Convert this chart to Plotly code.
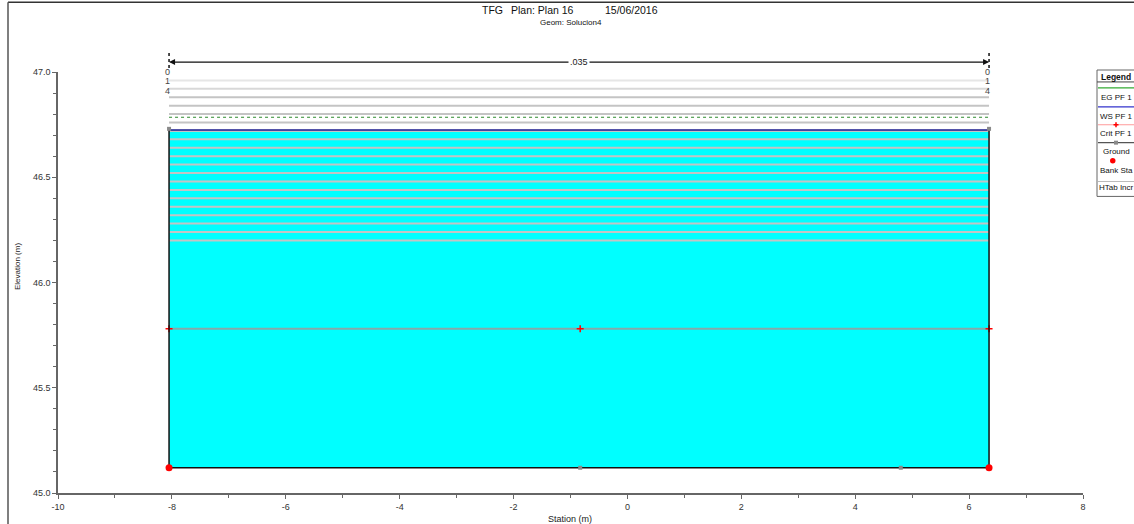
import plotly.graph_objects as go

# ---------------- data ----------------
ground_station = [-8.05, -8.05, -0.83, 4.80, 6.35, 6.35]
ground_elev = [46.73, 45.12, 45.12, 45.12, 45.12, 46.73]
bank_station = [-8.05, 6.35]
bank_elev = [45.12, 45.12]
ws_elev = 46.725
eg_elev = 46.785
crit_elev = 45.78
crit_station = [-8.05, -0.83, 6.35]
htab_elev = [46.20, 46.24, 46.28, 46.32, 46.36, 46.40, 46.44, 46.48, 46.52, 46.56,
             46.60, 46.64, 46.68, 46.72, 46.76, 46.80, 46.84, 46.88, 46.92, 46.96]
htab_colors = ["#c4c4c4"] * 18 + ["#d8d8d8", "#e6e6e6"]
x_tick_vals = [-10, -8, -6, -4, -2, 0, 2, 4, 6, 8]
x_tick_text = ["-10", "-8", "-6", "-4", "-2", "0", "2", "4", "6", "8"]
y_tick_vals = [45.0, 45.5, 46.0, 46.5, 47.0]
y_tick_text = ["45.0", "45.5", "46.0", "46.5", "47.0"]
n_value = ".035"
top_labels = ["0", "1", "4"]
title_parts = ["TFG", "Plan: Plan 16", "15/06/2016"]
subtitle = "Geom: Solucion4"
legend_items = ["EG PF 1", "WS PF 1", "Crit PF 1", "Ground", "Bank Sta", "HTab Incr"]

X_RANGE = [-10, 8]
Y_RANGE = [45.0, 47.0]
W, H = 1134, 524
ML, MR, MT, MB = 58, 51, 72, 29
PW, PH = W - ML - MR, H - MT - MB
FONT = "Liberation Sans, Arial, sans-serif"


def px(xp):
    return (xp - ML) / PW


def py(yp):
    return (H - MB - yp) / PH


def dx(x):
    return (x - X_RANGE[0]) / (X_RANGE[1] - X_RANGE[0])


fig = go.Figure()

# water fill
water_x = list(ground_station)
water_y = [min(e, ws_elev) for e in ground_elev]
fig.add_trace(go.Scatter(x=water_x, y=water_y, fill="toself", fillcolor="#00ffff",
                         mode="none", hoverinfo="skip", showlegend=False))

# HTab increment lines
x_left, x_right = ground_station[0], ground_station[-1]
for e, c in zip(htab_elev, htab_colors):
    fig.add_trace(go.Scatter(x=[x_left, x_right], y=[e, e], mode="lines",
                             line=dict(color=c, width=2), hoverinfo="skip", showlegend=False))

# Crit line
fig.add_trace(go.Scatter(x=crit_station, y=[crit_elev] * len(crit_station), mode="lines+markers",
                         line=dict(color="#86a9a9", width=2),
                         marker=dict(symbol="cross-thin", size=5, line=dict(color="red", width=1.5)),
                         showlegend=False))
# WS line
fig.add_trace(go.Scatter(x=[x_left, x_right], y=[ws_elev, ws_elev], mode="lines",
                         line=dict(color="#1a1a8c", width=1.5), showlegend=False))
# EG line
fig.add_trace(go.Scatter(x=[x_left, x_right], y=[eg_elev, eg_elev], mode="lines",
                         line=dict(color="#2e8b2e", width=1, dash="dot"), showlegend=False))
# Ground
fig.add_trace(go.Scatter(x=ground_station, y=ground_elev, mode="lines+markers",
                         line=dict(color="#111111", width=1.5),
                         marker=dict(symbol="square", size=4, color="#8a8a8a"),
                         showlegend=False))
# Bank stations
fig.add_trace(go.Scatter(x=bank_station, y=bank_elev, mode="markers",
                         marker=dict(symbol="circle", size=7, color="#ff0000"),
                         showlegend=False))

shapes = []
annotations = []

# outer frame (top and left edges)
shapes.append(dict(type="line", xref="paper", yref="paper", x0=px(8), x1=px(1140),
                   y0=py(2), y1=py(2), line=dict(color="#333", width=1.5)))
shapes.append(dict(type="line", xref="paper", yref="paper", x0=px(8), x1=px(8),
                   y0=py(2), y1=py(530), line=dict(color="#555", width=1.5)))

# n-value bracket
yb = py(62)
mid = (x_left + x_right) / 2
for xe in (x_left, x_right):
    annotations.append(dict(x=xe, y=yb, xref="x", yref="paper", ax=mid, ay=0,
                            axref="x", ayref="pixel", text="", showarrow=True,
                            arrowhead=2, arrowsize=1, arrowwidth=1.2, arrowcolor="#111"))
    shapes.append(dict(type="line", xref="paper", yref="paper", x0=dx(xe), x1=dx(xe),
                       y0=py(53), y1=py(70), line=dict(color="#111", width=1.5, dash="dot")))
annotations.append(dict(x=mid, y=yb, xref="x", yref="paper", text=n_value, showarrow=False,
                        bgcolor="white", font=dict(family=FONT, size=9, color="#222"),
                        xanchor="center", yanchor="middle"))

for lbl, yp in zip(top_labels, [72, 81.5, 91.5]):
    for xe in (x_left, x_right):
        annotations.append(dict(x=dx(xe) - 0.0015, y=py(yp), xref="paper", yref="paper", text=lbl,
                                showarrow=False, font=dict(family=FONT, size=9, color="#444"),
                                xanchor="center", yanchor="middle"))

# title
for t, xp in zip(title_parts, [480, 509, 603]):
    annotations.append(dict(x=px(xp), y=py(10), xref="paper", yref="paper", text=t,
                            showarrow=False, font=dict(family=FONT, size=10.5, color="#111"),
                            xanchor="left", yanchor="middle"))
annotations.append(dict(x=px(571), y=py(22), xref="paper", yref="paper", text=subtitle,
                        showarrow=False, font=dict(family=FONT, size=8, color="#111"),
                        xanchor="center", yanchor="middle"))

# axis titles
annotations.append(dict(x=px(17), y=py(268), xref="paper", yref="paper", text="Elevation (m)",
                        textangle=-90, showarrow=False, font=dict(family=FONT, size=8, color="#222"),
                        xanchor="center", yanchor="middle"))
annotations.append(dict(x=px(570), y=py(521), xref="paper", yref="paper", text="Station (m)",
                        showarrow=False, font=dict(family=FONT, size=9, color="#222"),
                        xanchor="center", yanchor="middle"))

# custom legend
LX0, LX1 = 1097, 1140
LXC = 1116
shapes.append(dict(type="rect", xref="paper", yref="paper", x0=px(LX0), x1=px(LX1),
                   y0=py(70), y1=py(197), line=dict(color="#666", width=1), fillcolor="white"))
annotations.append(dict(x=px(LXC), y=py(77), xref="paper", yref="paper", text="<b>Legend</b>",
                        showarrow=False, font=dict(family=FONT, size=8.5, color="#111"),
                        xanchor="center", yanchor="middle"))
shapes.append(dict(type="line", xref="paper", yref="paper", x0=px(LX0), x1=px(LX1),
                   y0=py(82), y1=py(82), line=dict(color="#444", width=1)))
sample_y = [88, 107, 125, 143, 161, 182]
text_y = [98, 117, 134, 152, 171, 188]
sample_col = ["#33aa33", "#3333cc", "#ff9a9a", "#555555", None, "#bbbbbb"]
for name, sy, ty, c in zip(legend_items, sample_y, text_y, sample_col):
    if c is not None:
        shapes.append(dict(type="line", xref="paper", yref="paper", x0=px(LX0 + 1), x1=px(LX1),
                           y0=py(sy), y1=py(sy), line=dict(color=c, width=1.2)))
    annotations.append(dict(x=px(LXC), y=py(ty), xref="paper", yref="paper", text=name,
                            showarrow=False, font=dict(family=FONT, size=8, color="#111"),
                            xanchor="center", yanchor="middle"))
# legend markers
shapes.append(dict(type="line", xref="paper", yref="paper", x0=px(LXC - 2.5), x1=px(LXC + 2.5),
                   y0=py(125), y1=py(125), line=dict(color="red", width=1.5)))
shapes.append(dict(type="line", xref="paper", yref="paper", x0=px(LXC), x1=px(LXC),
                   y0=py(122.5), y1=py(127.5), line=dict(color="red", width=1.5)))
shapes.append(dict(type="rect", xref="paper", yref="paper", x0=px(LXC - 2), x1=px(LXC + 2),
                   y0=py(141), y1=py(145), line=dict(width=0), fillcolor="#8a8a8a"))
shapes.append(dict(type="circle", xref="paper", yref="paper", x0=px(LXC - 6), x1=px(LXC - 0.5),
                   y0=py(158.5), y1=py(164), line=dict(width=0), fillcolor="red"))

axis_font = dict(family=FONT, size=9, color="#333")
fig.update_layout(
    width=W, height=H, margin=dict(l=ML, r=MR, t=MT, b=MB),
    paper_bgcolor="white", plot_bgcolor="white", showlegend=False,
    shapes=shapes, annotations=annotations,
    xaxis=dict(range=X_RANGE, tickmode="array", tickvals=x_tick_vals, ticktext=x_tick_text,
               showgrid=False, zeroline=False,
               showline=True, linecolor="#666", linewidth=1.5, ticks="outside", ticklen=4,
               tickcolor="#666", tickwidth=1.2, tickfont=axis_font,
               minor=dict(tickmode="linear", tick0=-10, dtick=1, ticks="outside", ticklen=3,
                          tickcolor="#666", showgrid=False)),
    yaxis=dict(range=Y_RANGE, tickmode="array", tickvals=y_tick_vals, ticktext=y_tick_text,
               showgrid=False, zeroline=False, showline=True, linecolor="#666", linewidth=1.5,
               ticks="outside", ticklen=4, tickcolor="#666", tickwidth=1.2, tickfont=axis_font,
               minor=dict(tickmode="linear", tick0=45, dtick=0.1, ticks="outside", ticklen=3,
                          tickcolor="#666", showgrid=False)),
)

fig.write_html("out.html", config={"displayModeBar": False},
               post_script="document.body.style.margin='0';document.body.style.overflow='hidden';")
